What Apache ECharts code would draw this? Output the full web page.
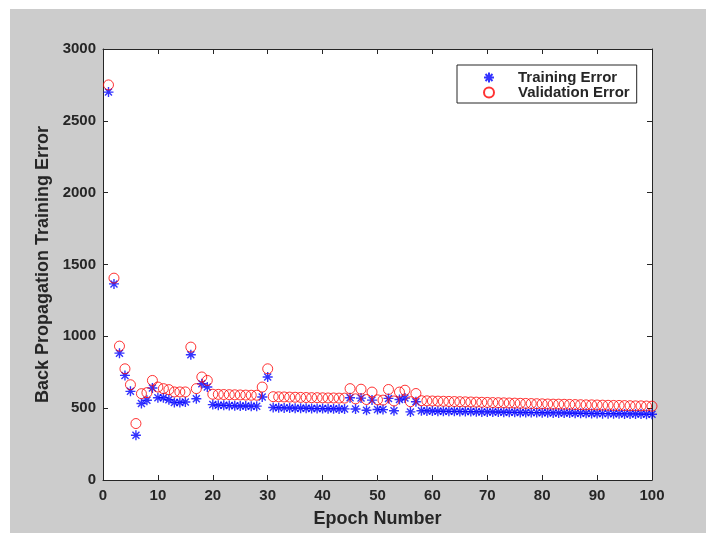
<!DOCTYPE html>
<html>
<head>
<meta charset="utf-8">
<script src="https://cdn.jsdelivr.net/npm/echarts@6/dist/echarts.min.js"></script>
<style>
  html, body { margin: 0; padding: 0; background: #ffffff; }
  #frame { position: relative; width: 706px; height: 533px; background: #ffffff; overflow: hidden; }
  #panel { position: absolute; left: 10px; top: 9px; width: 696px; height: 524px; background: #cccccc; }
  #chart { position: absolute; left: 0; top: 0; width: 706px; height: 533px; }
</style>
</head>
<body>
<div id="frame">
  <div id="panel"></div>
  <div id="chart"></div>
</div>
<script>
// Error per epoch for the back-propagation network (epochs 1..100)
const trainingError = [
  2700, 1365, 883, 728, 617, 312, 532, 555, 640, 573,
  573, 559, 539, 539, 543, 872, 566, 670, 647, 525,
  520, 520, 518, 516, 515, 515, 514, 514, 578, 717,
  505, 503, 502, 501, 500, 500, 499, 498, 497, 497,
  496, 496, 495, 495, 573, 494, 570, 486, 556, 491,
  490, 568, 482, 560, 570, 474, 545, 482, 481, 480,
  479, 479, 478, 478, 477, 476, 476, 475, 474, 474,
  473, 473, 472, 472, 471, 470, 470, 469, 469, 468,
  468, 467, 467, 466, 466, 465, 465, 464, 463, 463,
  462, 462, 461, 461, 460, 460, 459, 459, 458, 458
];
const validationError = [
  2750, 1405, 932, 774, 663, 393, 601, 608, 693, 647,
  636, 629, 613, 613, 613, 925, 636, 717, 693, 597,
  596, 595, 594, 593, 592, 591, 590, 590, 647, 774,
  580, 579, 578, 577, 576, 575, 574, 573, 573, 572,
  571, 571, 570, 570, 636, 565, 632, 560, 612, 558,
  556, 630, 550, 612, 625, 545, 602, 552, 551, 550,
  549, 548, 547, 546, 545, 544, 543, 542, 541, 540,
  539, 538, 537, 536, 535, 534, 533, 532, 531, 530,
  529, 528, 528, 527, 526, 525, 524, 523, 523, 522,
  521, 520, 519, 519, 518, 517, 516, 516, 515, 514
];
const seriesNames = ['Training Error', 'Validation Error'];
const xTitle = 'Epoch Number';
const yTitle = 'Back Propagation Training Error';

const toPoints = arr => arr.map((v, i) => [i + 1, v]);

const FONT = '"Liberation Sans", Arial, Helvetica, sans-serif';
const INK = '#262626';
const ASTERISK = 'path://M0,5L10,5M5,0L5,10M1.5,1.5L8.5,8.5M8.5,1.5L1.5,8.5';

const tickStyle = { show: true, inside: true, length: 5, lineStyle: { color: INK, width: 1 } };
const lineStyle = { show: true, onZero: false, lineStyle: { color: INK, width: 1 } };
const labelStyle = {
  color: INK, fontFamily: FONT, fontSize: 15, fontWeight: 'bold',
  formatter: v => String(v)
};

const chart = echarts.init(document.getElementById('chart'), null, { renderer: 'canvas' });
chart.setOption({
  animation: false,
  backgroundColor: 'transparent',
  textStyle: { fontFamily: FONT },
  grid: {
    left: 103, right: 54, top: 49, bottom: 51,
    show: true, backgroundColor: '#ffffff', borderWidth: 0
  },
  legend: {
    orient: 'vertical',
    left: 457, top: 65,
    backgroundColor: '#ffffff',
    borderColor: INK, borderWidth: 1,
    padding: [5, 7, 3, 26],
    itemWidth: 48, itemHeight: 10, itemGap: 0,
    textStyle: { color: INK, fontFamily: FONT, fontSize: 15, fontWeight: 'bold', lineHeight: 15 },
    data: seriesNames
  },
  xAxis: [
    {
      type: 'value', position: 'bottom', min: 0, max: 100, interval: 10,
      axisLine: lineStyle, axisTick: tickStyle, splitLine: { show: false },
      axisLabel: Object.assign({ margin: 8 }, labelStyle),
      name: xTitle, nameLocation: 'middle', nameGap: 30,
      nameTextStyle: { color: INK, fontFamily: FONT, fontSize: 18, fontWeight: 'bold' }
    },
    {
      type: 'value', position: 'top', min: 0, max: 100, interval: 10,
      axisLine: lineStyle, axisTick: tickStyle, splitLine: { show: false },
      axisLabel: { show: false }
    }
  ],
  yAxis: [
    {
      type: 'value', position: 'left', min: 0, max: 3000, interval: 500,
      axisLine: lineStyle, axisTick: tickStyle, splitLine: { show: false },
      axisLabel: Object.assign({ margin: 7 }, labelStyle),
      name: yTitle, nameLocation: 'middle', nameGap: 46, nameRotate: 90,
      nameTextStyle: { color: INK, fontFamily: FONT, fontSize: 18, fontWeight: 'bold' }
    },
    {
      type: 'value', position: 'right', min: 0, max: 3000, interval: 500,
      axisLine: lineStyle, axisTick: tickStyle, splitLine: { show: false },
      axisLabel: { show: false }
    }
  ],
  series: [
    {
      name: seriesNames[0], type: 'scatter',
      data: toPoints(trainingError),
      symbol: ASTERISK, symbolSize: 10,
      itemStyle: { color: 'rgba(0,0,0,0)', borderColor: '#0000ff', borderWidth: 1.4 },
      emphasis: { disabled: true }
    },
    {
      name: seriesNames[1], type: 'scatter',
      data: toPoints(validationError),
      symbol: 'circle', symbolSize: 10,
      itemStyle: { color: 'rgba(0,0,0,0)', borderColor: '#ff0000', borderWidth: 1 },
      emphasis: { disabled: true }
    }
  ]
});
</script>
</body>
</html>
